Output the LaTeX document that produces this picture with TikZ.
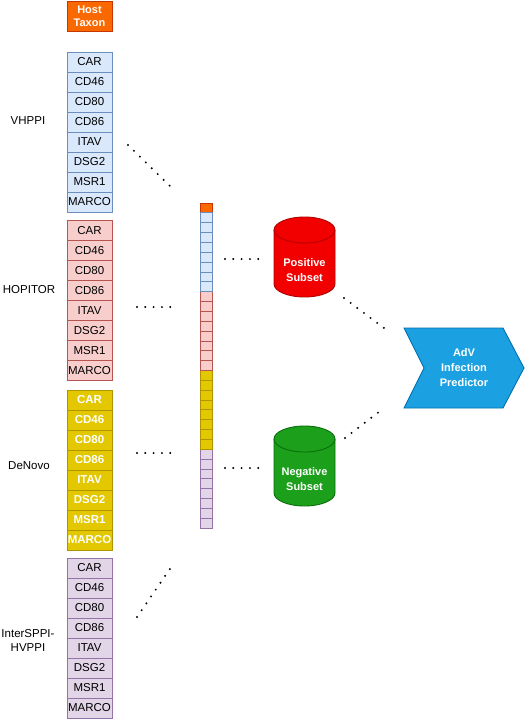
\documentclass[tikz,border=0pt]{standalone}
\usepackage{fontspec}
\setmainfont{Liberation Sans}
\definecolor{orF}{HTML}{FA6800}\definecolor{orD}{HTML}{C73500}
\definecolor{blF}{HTML}{DAE8FC}\definecolor{blD}{HTML}{6C8EBF}
\definecolor{rdF}{HTML}{F8CECC}\definecolor{rdD}{HTML}{B85450}
\definecolor{ylF}{HTML}{E3C800}\definecolor{ylD}{HTML}{B09500}
\definecolor{puF}{HTML}{E1D5E7}\definecolor{puD}{HTML}{9673A6}
\definecolor{posF}{RGB}{242,0,0}\definecolor{posD}{RGB}{178,0,0}
\definecolor{negF}{RGB}{28,160,28}\definecolor{negD}{RGB}{10,110,10}
\definecolor{prF}{HTML}{1BA1E2}\definecolor{prD}{HTML}{006EAF}
\begin{document}
\begin{tikzpicture}[x=1pt,y=-1pt,
  cellbox/.style={draw, line width=0.9pt, minimum width=45pt, minimum height=20pt, inner sep=0pt, font=\fontsize{11.5}{13}\selectfont},
  bluecell/.style={cellbox, fill=blF, draw=blD},
  redcell/.style={cellbox, fill=rdF, draw=rdD},
  yelcell/.style={cellbox, fill=ylF, draw=ylD, text=white, font=\fontsize{11.5}{13}\selectfont\bfseries},
  purcell/.style={cellbox, fill=puF, draw=puD},
  vcell/.style={draw, line width=0.8pt, minimum width=12pt, minimum height=9.85pt, inner sep=0pt},
  sidelbl/.style={font=\fontsize{11.5}{14}\selectfont, align=center, inner sep=0pt},
  whitebold/.style={text=white, font=\fontsize{11}{15}\selectfont\bfseries, align=center, inner sep=0pt},
  dotline/.style={line width=2.2pt, line cap=round, dash pattern=on 0pt off 8.3pt}
]
\useasboundingbox (0,0) rectangle (526,720);

% Host taxon
\node[cellbox, fill=orF, draw=orD, minimum height=30pt, text=white, font=\fontsize{11}{13}\selectfont\bfseries, align=center] (host) at (89.5,16) {Host\\Taxon};

% Feature columns
\foreach \n [count=\i] in {CAR,CD46,CD80,CD86,ITAV,DSG2,MSR1,MARCO} {
  \node[bluecell] (vh\i) at (89.5,{42+20*\i}) {\n};
  \node[redcell]  (ho\i) at (89.5,{210.5+20*\i}) {\n};
  \node[yelcell]  (dn\i) at (89.5,{380+20*\i}) {\n};
  \node[purcell]  (is\i) at (89.5,{548+20*\i}) {\n};
}

% Side labels
\node[sidelbl] (lvh) at (28,121) {VHPPI};
\node[sidelbl] (lho) at (29,290) {HOPITOR};
\node[sidelbl] (ldn) at (29,466) {DeNovo};
\node[sidelbl] (lis) at (28,640) {InterSPPI-\\HVPPI};

% Combined vector
\node[vcell, fill=orF, draw=orD] (c0) at (206,{203+9.85*0.5}) {};
\foreach \i in {1,...,8} {
  \node[vcell, fill=blF, draw=blD] (cb\i) at (206,{203+9.85*(\i+0.5)}) {};
  \node[vcell, fill=rdF, draw=rdD] (cr\i) at (206,{203+9.85*(\i+8.5)}) {};
  \node[vcell, fill=ylF, draw=ylD] (cy\i) at (206,{203+9.85*(\i+16.5)}) {};
  \node[vcell, fill=puF, draw=puD] (cp\i) at (206,{203+9.85*(\i+24.5)}) {};
}

% Cylinders
\fill[posF] (274,230) -- (274,284) arc[start angle=180,end angle=0,x radius=30.5,y radius=13] -- (335,230) arc[start angle=360,end angle=180,x radius=30.5,y radius=13] -- cycle;
\draw[posD, line width=0.9pt] (274,230) -- (274,284) arc[start angle=180,end angle=0,x radius=30.5,y radius=13] -- (335,230) arc[start angle=360,end angle=180,x radius=30.5,y radius=13];
\draw[posD, line width=0.9pt] (274,230) arc[start angle=180,end angle=0,x radius=30.5,y radius=13];
\node[whitebold] (pos) at (304.5,270) {Positive\\Subset};

\fill[negF] (274,439) -- (274,493) arc[start angle=180,end angle=0,x radius=30.5,y radius=13] -- (335,439) arc[start angle=360,end angle=180,x radius=30.5,y radius=13] -- cycle;
\draw[negD, line width=0.9pt] (274,439) -- (274,493) arc[start angle=180,end angle=0,x radius=30.5,y radius=13] -- (335,439) arc[start angle=360,end angle=180,x radius=30.5,y radius=13];
\draw[negD, line width=0.9pt] (274,439) arc[start angle=180,end angle=0,x radius=30.5,y radius=13];
\node[whitebold] (neg) at (304.5,479) {Negative\\Subset};

% Predictor
\filldraw[fill=prF, draw=prD, line width=0.9pt] (404,328) -- (503,328) -- (524,368) -- (503,408) -- (404,408) -- (424,368) -- cycle;
\node[whitebold] (pred) at (464,368) {AdV\\Infection\\Predictor};

% Dotted connectors
\coordinate (a1) at (128,145); \coordinate (b1) at (174,190);
\coordinate (a2) at (137,307); \coordinate (b2) at (171,307);
\coordinate (a3) at (137,453); \coordinate (b3) at (171,453);
\coordinate (a4) at (137,617); \coordinate (b4) at (174,563);
\coordinate (a5) at (225,259); \coordinate (b5) at (259,259);
\coordinate (a6) at (225,468); \coordinate (b6) at (259,468);
\coordinate (a7) at (344,298); \coordinate (b7) at (384,328);
\coordinate (a8) at (345,438); \coordinate (b8) at (384,408);
\foreach \k in {1,...,8} { \draw[dotline] (a\k) -- (b\k); }
\end{tikzpicture}
\end{document}
